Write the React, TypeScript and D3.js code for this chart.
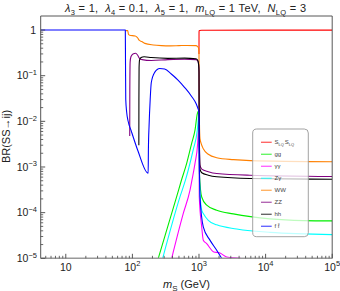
import React from "react";
import * as d3 from "d3";

const W = 340;
const H = 291;
const PL = 40.7, PR = 332.2, PT = 16, PB = 258.3;

// x axis: m_S (GeV), log; y axis: BR, log
const xDomain = [4.2, 1e5];
const yDomain = [1e-5, 2.03];

const xMajorTicks = [10, 100, 1000, 10000, 100000];
const xTickBase = ["10", "10", "10", "10", "10"];
const xTickExp = ["", "2", "3", "4", "5"];
const yMajorTicks = [1, 1e-1, 1e-2, 1e-3, 1e-4, 1e-5];
const yTickBase = ["1", "10", "10", "10", "10", "10"];
const yTickExp = ["", "\u22121", "\u22122", "\u22123", "\u22124", "\u22125"];

// S_LQ S_LQ (red)
const massLQ = [1000, 1001, 1003, 1006, 1020, 1100, 100000];
const brLQ = [0.3, 0.8, 0.93, 0.96, 0.975, 0.99, 0.997];

// gg (green)
const massGG = [245, 462, 542, 653, 776, 871, 942, 985, 1000, 1005, 1015, 1098, 1305, 1845, 3274, 11650, 36800, 100000];
const brGG = [1e-5, 2.24e-4, 5.0e-4, 1.2e-3, 3.3e-3, 6.4e-3, 0.0145, 0.017, 0.0165, 0.003, 0.0007, 2.2e-4, 1.46e-4, 1.13e-4, 9.4e-5, 7.3e-5, 6.7e-5, 6.6e-5];

// γγ (magenta)
const massAA = [389, 581, 733, 785, 871, 956, 985, 1000, 1003, 1010, 1098, 1160, 1305, 1640, 2065, 2606, 4130, 10000];
const brAA = [1e-5, 9.6e-5, 3.1e-4, 5.2e-4, 1.2e-3, 3.3e-3, 0.009, 0.015, 0.002, 2.2e-4, 4.9e-5, 2.5e-5, 2.1e-5, 1.4e-5, 1.3e-5, 1.07e-5, 1e-5, 7e-6];

// Zγ (cyan)
const massZA = [285, 519, 627, 690, 820, 942, 980, 1000, 1005, 1015, 1098, 1160, 1379, 1845, 3680, 11650, 100000];
const brZA = [1e-5, 2.24e-4, 5.2e-4, 8.6e-4, 2.4e-3, 6.4e-3, 0.012, 0.016, 0.003, 5e-4, 1.13e-4, 9.6e-5, 6.8e-5, 5.4e-5, 4.4e-5, 3.7e-5, 3.3e-5];

// WW (orange)
const massWW = [79, 85, 87.5, 91, 110, 117, 121, 126, 138, 154, 206, 274, 370, 500, 660, 900, 950, 980, 995, 1000, 1005, 1015, 1035, 1100, 1160, 1380, 1840, 3300, 5900, 100000];
const brWW = [0.97, 0.97, 0.8, 0.77, 0.74, 0.7, 0.66, 0.6, 0.56, 0.51, 0.47, 0.455, 0.45, 0.455, 0.46, 0.455, 0.44, 0.41, 0.36, 0.3, 0.05, 0.01, 4.2e-3, 3e-3, 2.5e-3, 1.9e-3, 1.6e-3, 1.45e-3, 1.38e-3, 1.3e-3];

// ZZ (purple)
const massZZ = [91.2, 91.5, 92.5, 95, 102, 112, 120, 128, 140, 192, 342, 610, 900, 960, 990, 1000, 1003, 1010, 1020, 1035, 1100, 1380, 1850, 5800, 100000];
const brZZ = [4.8e-3, 0.05, 0.2, 0.26, 0.3, 0.31, 0.28, 0.24, 0.225, 0.215, 0.225, 0.23, 0.225, 0.21, 0.17, 0.13, 0.03, 6e-3, 2e-3, 1.1e-3, 9e-4, 7.9e-4, 7.2e-4, 6.6e-4, 6.2e-4];

// hh (black)
const massHH = [125, 125.3, 126, 128, 135, 150, 192, 342, 610, 900, 950, 980, 995, 1000, 1003, 1010, 1020, 1035, 1100, 1380, 1850, 5800, 100000];
const brHH = [3e-3, 0.03, 0.15, 0.22, 0.25, 0.26, 0.25, 0.24, 0.243, 0.235, 0.22, 0.19, 0.15, 0.12, 0.02, 5e-3, 1.8e-3, 9e-4, 7.5e-4, 6.6e-4, 6.1e-4, 5.6e-4, 5.4e-4];

// f fbar (blue)
const massFF = [4.2, 78.3, 78.8, 79.5, 82, 86, 96, 121, 172.5, 174, 178, 185, 192, 216, 257, 305, 384, 484, 610, 766, 910, 966, 1000, 1005, 1020, 1035, 1160, 1460, 1845, 2190, 3000];
const brFF = [1, 1, 0.2, 0.03, 0.016, 0.0103, 0.0062, 0.00227, 0.00073, 0.0025, 0.008, 0.03, 0.07, 0.118, 0.144, 0.14, 0.109, 0.08, 0.055, 0.036, 0.024, 0.019, 0.016, 0.003, 6e-4, 2.2e-4, 4.9e-5, 2.5e-5, 1.5e-5, 1e-5, 5e-6];

const seriesKeys = ["LQ", "gg", "aa", "Za", "WW", "ZZ", "hh", "ff"];
const seriesColors = ["#ff0000", "#00ee00", "#ff00ff", "#00ffff", "#ff8000", "#800080", "#000000", "#0000ff"];
const seriesMass = [massLQ, massGG, massAA, massZA, massWW, massZZ, massHH, massFF];
const seriesBR = [brLQ, brGG, brAA, brZA, brWW, brZZ, brHH, brFF];

const FONT = "'Liberation Sans', Arial, Helvetica, sans-serif";

function LegendLabel({ k, x, y }: { k: string; x: number; y: number }) {
  const fs = 6;
  const common = { x, y, fontSize: fs, fill: "#444", fontFamily: FONT, dominantBaseline: "central" as const };
  if (k === "LQ")
    return (
      <text {...common}>
        S<tspan fontSize={4} dy={1.5}>LQ</tspan>
        <tspan dx={0.8} dy={-1.5}>S</tspan>
        <tspan fontSize={4} dy={1.5}>LQ</tspan>
      </text>
    );
  const map: Record<string, string> = { gg: "gg", aa: "\u03b3\u03b3", Za: "Z\u03b3", WW: "WW", ZZ: "ZZ", hh: "hh", ff: "f f\u0304" };
  return <text {...common}>{map[k]}</text>;
}

export default function App() {
  const x = d3.scaleLog().domain(xDomain).range([PL, PR]);
  const y = d3.scaleLog().domain(yDomain).range([PB, PT]);
  const line = d3
    .line<[number, number]>()
    .x((d) => x(d[0]))
    .y((d) => y(d[1]))
    .curve(d3.curveMonotoneX);

  const xMinor = x.ticks().filter((t) => !xMajorTicks.includes(t));
  const yMinor = y.ticks().filter((t) => t <= 1 && !yMajorTicks.some((m) => Math.abs(m - t) / t < 1e-6));

  const legX = 252.7, legY = 129, legW = 55.6, legH = 107.7;
  const sep = "\u00a0\u00a0";

  return (
    <svg width={W} height={H} style={{ position: "fixed", left: 0, top: 0, background: "#fff" }} fontFamily={FONT}>
      <defs>
        <clipPath id="plotclip">
          <rect x={PL} y={PT} width={PR - PL} height={PB - PT} />
        </clipPath>
      </defs>
      <rect x={0} y={0} width={W} height={H} fill="#fff" />

      {/* curves */}
      <g clipPath="url(#plotclip)">
        {seriesKeys.map((k, i) => (
          <path
            key={k}
            d={line(d3.zip(seriesMass[i], seriesBR[i]) as [number, number][]) || ""}
            fill="none"
            stroke={seriesColors[i]}
            strokeWidth={1.1}
            strokeLinejoin="round"
          />
        ))}
      </g>

      {/* frame */}
      <line x1={PL} x2={PR} y1={PT} y2={PT} stroke="#444" strokeWidth={0.9} />
      <line x1={PR} x2={PR} y1={PT} y2={PB} stroke="#444" strokeWidth={0.9} />
      <line x1={PL} x2={PL} y1={PT} y2={PB} stroke="#555" strokeWidth={1} />
      <line x1={PL} x2={PR} y1={PB} y2={PB} stroke="#999" strokeWidth={1.4} />

      {/* x ticks */}
      {xMajorTicks.map((t) => (
        <line key={"xM" + t} x1={x(t)} x2={x(t)} y1={PB} y2={PB - 4.5} stroke="#444" strokeWidth={0.9} />
      ))}
      {xMinor.map((t) => (
        <line key={"xm" + t} x1={x(t)} x2={x(t)} y1={PB} y2={PB - 2.5} stroke="#444" strokeWidth={0.8} />
      ))}
      {xMajorTicks.map((t, i) => (
        <text key={"xl" + t} x={x(t)} y={270.5} textAnchor="middle" fontSize={10.5} fill="#222">
          {xTickBase[i]}
          {xTickExp[i] && (
            <tspan fontSize={7.5} dy={-4.5}>
              {xTickExp[i]}
            </tspan>
          )}
        </text>
      ))}

      {/* y ticks */}
      {yMajorTicks.map((t) => (
        <line key={"yM" + t} x1={PL} x2={PL + 4.5} y1={y(t)} y2={y(t)} stroke="#444" strokeWidth={0.9} />
      ))}
      {yMinor.map((t) => (
        <line key={"ym" + t} x1={PL} x2={PL + 2.5} y1={y(t)} y2={y(t)} stroke="#444" strokeWidth={0.8} />
      ))}
      {yMajorTicks.map((t, i) => (
        <text key={"yl" + t} x={yTickExp[i] ? 37 : 36} y={y(t) + 3.7} textAnchor="end" fontSize={10.5} fill="#222">
          {yTickBase[i]}
          {yTickExp[i] && (
            <tspan fontSize={7.5} dy={-4.5}>
              {yTickExp[i]}
            </tspan>
          )}
        </text>
      ))}

      {/* axis labels */}
      <text x={186.5} y={288} textAnchor="middle" fontSize={11} fill="#222">
        <tspan fontStyle="italic">m</tspan>
        <tspan fontSize={8} dy={2.5}>S</tspan>
        <tspan dy={-2.5}>{"\u00a0(GeV)"}</tspan>
      </text>
      <text transform="translate(10,136.5) rotate(-90)" textAnchor="middle" fontSize={11} fill="#222">
        BR(SS{"\u2192"}ij)
      </text>

      {/* title */}
      <text x={65} y={12} fontSize={11} fill="#222" textLength={241} lengthAdjust="spacing">
        <tspan fontStyle="italic">{"\u03bb"}</tspan>
        <tspan fontSize={7.5} dy={2.5}>3</tspan>
        <tspan dy={-2.5}>{"\u00a0=\u00a01," + sep}</tspan>
        <tspan fontStyle="italic">{"\u03bb"}</tspan>
        <tspan fontSize={7.5} dy={2.5}>4</tspan>
        <tspan dy={-2.5}>{"\u00a0=\u00a00.1," + sep}</tspan>
        <tspan fontStyle="italic">{"\u03bb"}</tspan>
        <tspan fontSize={7.5} dy={2.5}>5</tspan>
        <tspan dy={-2.5}>{"\u00a0=\u00a01," + sep}</tspan>
        <tspan fontStyle="italic">m</tspan>
        <tspan fontSize={7.5} dy={2.5}>LQ</tspan>
        <tspan dy={-2.5}>{"\u00a0=\u00a01\u00a0TeV," + sep}</tspan>
        <tspan fontStyle="italic">N</tspan>
        <tspan fontSize={7.5} dy={2.5}>LQ</tspan>
        <tspan dy={-2.5}>{"\u00a0=\u00a03"}</tspan>
      </text>

      {/* legend */}
      <rect x={legX} y={legY} width={legW} height={legH} rx={4} ry={4} fill="#fff" fillOpacity={0.75} stroke="#999" strokeWidth={0.9} />
      {seriesKeys.map((k, i) => {
        const ly = 142.3 + 12 * i;
        return (
          <g key={"leg" + k}>
            <line x1={261} x2={271.7} y1={ly} y2={ly} stroke={seriesColors[i]} strokeOpacity={0.6} strokeWidth={1.4} />
            <LegendLabel k={k} x={274.5} y={ly} />
          </g>
        );
      })}
    </svg>
  );
}
